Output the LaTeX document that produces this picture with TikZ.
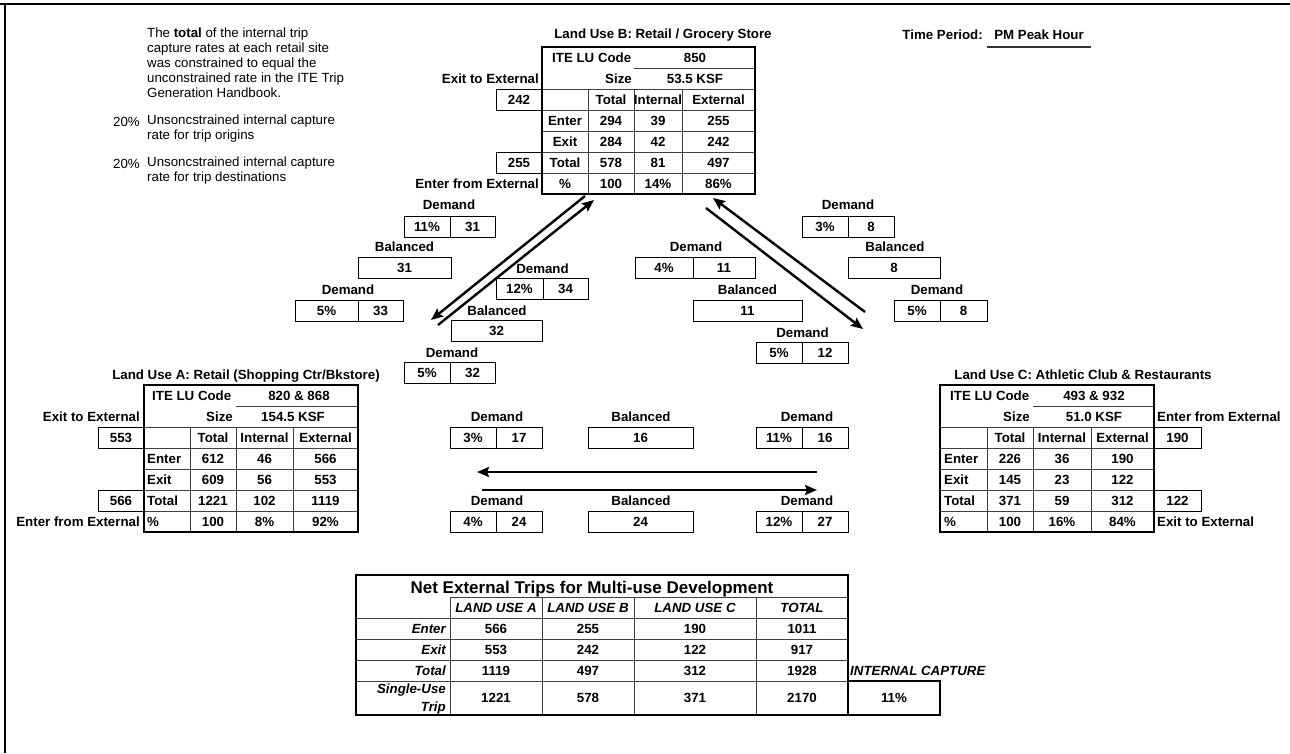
\documentclass[tikz,border=0pt]{standalone}
\usepackage{fontspec}
\setmainfont{Liberation Sans}
\usetikzlibrary{arrows.meta}
\newcommand{\bsz}{\fontsize{13.3}{15}\selectfont}
\newcommand{\twobox}[8]{%
  \node[cellbox, minimum width={#3-#2}, minimum height={#6-#5}] (#1a) at ({(#2+#3)/2},{(#5+#6)/2}) {#7};
  \node[cellbox, minimum width={#4-#3}, minimum height={#6-#5}] (#1b) at ({(#3+#4)/2},{(#5+#6)/2}) {#8};}
\newcommand{\onebox}[6]{%
  \node[cellbox, minimum width={#3-#2}, minimum height={#5-#4}] (#1) at ({(#2+#3)/2},{(#4+#5)/2}) {#6};}
\newcommand{\rowvals}[8]{%
  \node[lbl] (#1a) at (#3,#2) {#6};
  \node[lbl] (#1b) at (#4,#2) {#7};
  \node[lbl] (#1c) at (#5,#2) {#8};}
\begin{document}
\begin{tikzpicture}[x=1pt,y=-1pt,
  lbl/.style={font=\bfseries\bsz, inner sep=0pt, text height=9.5pt, text depth=0pt},
  ilbl/.style={font=\bfseries\itshape\bsz, inner sep=0pt, text height=9.5pt, text depth=0pt},
  note/.style={font=\fontsize{13.3}{15}\selectfont, inner sep=0pt, text height=9.5pt, text depth=0pt, anchor=west},
  cellbox/.style={draw, line width=0.9pt, inner sep=0pt, font=\bfseries\bsz, text height=9.5pt, text depth=0pt},
  grid/.style={line width=0.8pt, draw=black!75},
  frame/.style={line width=2pt},
  darr/.style={line width=2.4pt, -{Stealth[length=12pt,width=10pt,inset=2pt]}},
  harr/.style={line width=2.8pt, -{Stealth[length=12pt,width=10pt,inset=2pt]}},
]
\useasboundingbox (0,0) rectangle (1290,753);
% page border
\coordinate (tl0) at (0,4); \coordinate (tr0) at (1290,4);
\coordinate (lt0) at (5,4); \coordinate (lb0) at (5,753);
\draw[line width=2pt] (tl0) -- (tr0);
\draw[line width=1.6pt] (lt0) -- (lb0);

% description
\node[note] (d1) at (147,33) {The \textbf{total} of the internal trip};
\node[note] (d2) at (147,48) {capture rates at each retail site};
\node[note] (d3) at (147,63) {was constrained to equal the};
\node[note] (d4) at (147,78) {unconstrained rate in the ITE Trip};
\node[note] (d5) at (147,93) {Generation Handbook.};
\node[note] (p1) at (113,122) {20\%};
\node[note] (d6) at (147,120) {Unsoncstrained internal capture};
\node[note] (d7) at (147,135) {rate for trip origins};
\node[note] (p2) at (113,164) {20\%};
\node[note] (d8) at (147,162) {Unsoncstrained internal capture};
\node[note] (d9) at (147,177) {rate for trip destinations};

% time period
\node[lbl, anchor=east] (tpL) at (983,35) {Time Period:};
\node[lbl] (tpV) at (1039,35) {PM Peak Hour};
\coordinate (ulA) at (987,47); \coordinate (ulB) at (1091,47);
\draw[line width=1.5pt, black!80] (ulA) -- (ulB);

% ---------------- Land Use B
\node[lbl] (bTitle) at (663,34) {Land Use B: Retail / Grocery Store};
\draw[grid] (634,68) -- (755,68);
\foreach \y in {89,110,131,152,173} \draw[grid] (542,\y) -- (755,\y);
\foreach \x in {588,634,682} \draw[grid] (\x,89) -- (\x,194);
\onebox{bOutBox}{496}{542}{89}{110}{242}
\onebox{bInBox}{496}{542}{152}{173}{255}
\draw[frame] (542,47) rectangle (755,194);
\node[lbl, anchor=east] (bExitLbl) at (539,78.5) {Exit to External};
\node[lbl, anchor=east] (bEnterLbl) at (539,183.5) {Enter from External};
\node[lbl, anchor=west] (bCode) at (552,57.5) {ITE LU Code};
\node[lbl] (bCodeV) at (695,57.5) {850};
\node[lbl, anchor=east] (bSize) at (632,78.5) {Size};
\node[lbl] (bSizeV) at (695,78.5) {53.5 KSF};
\rowvals{bH}{99.5}{611}{658}{718.5}{Total}{Internal}{External}
\node[lbl] (bhE) at (565,120.5) {Enter};
\rowvals{bE}{120.5}{611}{658}{718.5}{294}{39}{255}
\node[lbl] (bhX) at (565,141.5) {Exit};
\rowvals{bX}{141.5}{611}{658}{718.5}{284}{42}{242}
\node[lbl] (bhT) at (565,162.5) {Total};
\rowvals{bT}{162.5}{611}{658}{718.5}{578}{81}{497}
\node[lbl] (bhP) at (565,183.5) {\%};
\rowvals{bP}{183.5}{611}{658}{718.5}{100}{14\%}{86\%}

% ---------------- Land Use A
\node[lbl] (aTitle) at (246,375) {Land Use A: Retail (Shopping Ctr/Bkstore)};
\draw[grid] (236,406) -- (358,406);
\foreach \y in {427,448,469,490,511} \draw[grid] (144,\y) -- (358,\y);
\foreach \x in {190,236,293} \draw[grid] (\x,427) -- (\x,532);
\onebox{aOutBox}{98}{144}{427}{448}{553}
\onebox{aInBox}{98}{144}{490}{511}{566}
\draw[frame] (144,385) rectangle (358,532);
\node[lbl, anchor=east] (aExitLbl) at (140,416.5) {Exit to External};
\node[lbl, anchor=east] (aEnterLbl) at (140,521.5) {Enter from External};
\node[lbl, anchor=west] (aCode) at (152,395.5) {ITE LU Code};
\node[lbl] (aCodeV) at (299,395.5) {820 \& 868};
\node[lbl, anchor=east] (aSize) at (233,416.5) {Size};
\node[lbl] (aSizeV) at (293,416.5) {154.5 KSF};
\rowvals{aH}{437.5}{213}{264.5}{325.5}{Total}{Internal}{External}
\node[lbl, anchor=west] (ahE) at (147,458.5) {Enter};
\rowvals{aE}{458.5}{213}{264.5}{325.5}{612}{46}{566}
\node[lbl, anchor=west] (ahX) at (147,479.5) {Exit};
\rowvals{aX}{479.5}{213}{264.5}{325.5}{609}{56}{553}
\node[lbl, anchor=west] (ahT) at (147,500.5) {Total};
\rowvals{aT}{500.5}{213}{264.5}{325.5}{1221}{102}{1119}
\node[lbl, anchor=west] (ahP) at (147,521.5) {\%};
\rowvals{aP}{521.5}{213}{264.5}{325.5}{100}{8\%}{92\%}

% ---------------- Land Use C
\node[lbl] (cTitle) at (1083,375) {Land Use C: Athletic Club \& Restaurants};
\draw[grid] (1033,406) -- (1154,406);
\foreach \y in {427,448,469,490,511} \draw[grid] (940,\y) -- (1154,\y);
\foreach \x in {987,1033,1091} \draw[grid] (\x,427) -- (\x,532);
\onebox{cInBox}{1154}{1201}{427}{448}{190}
\onebox{cOutBox}{1154}{1201}{490}{511}{122}
\draw[frame] (940,385) rectangle (1154,532);
\node[lbl, anchor=west] (cEnterLbl) at (1157,416.5) {Enter from External};
\node[lbl, anchor=west] (cExitLbl) at (1157,521.5) {Exit to External};
\node[lbl, anchor=west] (cCode) at (950,395.5) {ITE LU Code};
\node[lbl] (cCodeV) at (1094,395.5) {493 \& 932};
\node[lbl, anchor=east] (cSize) at (1030,416.5) {Size};
\node[lbl] (cSizeV) at (1094,416.5) {51.0 KSF};
\rowvals{cH}{437.5}{1010}{1062}{1122.5}{Total}{Internal}{External}
\node[lbl, anchor=west] (chE) at (944,458.5) {Enter};
\rowvals{cE}{458.5}{1010}{1062}{1122.5}{226}{36}{190}
\node[lbl, anchor=west] (chX) at (944,479.5) {Exit};
\rowvals{cX}{479.5}{1010}{1062}{1122.5}{145}{23}{122}
\node[lbl, anchor=west] (chT) at (944,500.5) {Total};
\rowvals{cT}{500.5}{1010}{1062}{1122.5}{371}{59}{312}
\node[lbl, anchor=west] (chP) at (944,521.5) {\%};
\rowvals{cP}{521.5}{1010}{1062}{1122.5}{100}{16\%}{84\%}

% ---------------- A <-> B
\node[lbl] (abL1) at (449,205) {Demand};
\twobox{ab1}{404}{450}{495}{216}{237}{11\%}{31}
\node[lbl] (abL2) at (404.5,247) {Balanced};
\onebox{ab2}{358}{451}{257}{278}{31}
\node[lbl] (abL3) at (348,290) {Demand};
\twobox{ab3}{295}{358}{403}{300}{321}{5\%}{33}
\node[lbl] (abL4) at (542.5,269) {Demand};
\twobox{ab4}{496}{543}{588}{278}{299}{12\%}{34}
\node[lbl] (abL5) at (497,311) {Balanced};
\onebox{ab5}{451}{542}{320.5}{341.5}{32}
\node[lbl] (abL6) at (452,353) {Demand};
\twobox{ab6}{404}{450}{495}{362.5}{383.5}{5\%}{32}
\coordinate (ab1s) at (585,196); \coordinate (ab1e) at (431,320);
\coordinate (ab2s) at (438,325); \coordinate (ab2e) at (594,200);
\draw[darr] (ab1s) -- (ab1e);
\draw[darr] (ab2s) -- (ab2e);

% ---------------- B <-> C
\node[lbl] (bcL1) at (848,205) {Demand};
\twobox{bc1}{802}{848}{894}{216}{237}{3\%}{8}
\node[lbl] (bcL2) at (895,247) {Balanced};
\onebox{bc2}{848}{940}{257}{278}{8}
\node[lbl] (bcL3) at (937,290) {Demand};
\twobox{bc3}{894}{940}{987}{300}{321}{5\%}{8}
\node[lbl] (bcL4) at (696,247) {Demand};
\twobox{bc4}{635}{693}{755}{257}{278}{4\%}{11}
\node[lbl] (bcL5) at (747.5,290) {Balanced};
\onebox{bc5}{693}{802}{300}{321}{11}
\node[lbl] (bcL6) at (802.5,333) {Demand};
\twobox{bc6}{756}{802}{848}{342}{363}{5\%}{12}
\coordinate (bc1s) at (865,312); \coordinate (bc1e) at (713,198);
\coordinate (bc2s) at (706,208); \coordinate (bc2e) at (863,329);
\draw[darr] (bc1s) -- (bc1e);
\draw[darr] (bc2s) -- (bc2e);

% ---------------- A <-> C
\node[lbl] (acL1) at (497,417) {Demand};
\twobox{ac1}{450}{496}{542}{427}{448}{3\%}{17}
\node[lbl] (acL2) at (641,417) {Balanced};
\onebox{ac2}{588}{693}{427}{448}{16}
\node[lbl] (acL3) at (807,417) {Demand};
\twobox{ac3}{756}{802}{848}{427}{448}{11\%}{16}
\coordinate (ac1s) at (817,472); \coordinate (ac1e) at (477,472);
\coordinate (ac2s) at (482,490); \coordinate (ac2e) at (817,490);
\draw[harr] (ac1s) -- (ac1e);
\draw[harr] (ac2s) -- (ac2e);
\node[lbl] (acL4) at (497,501) {Demand};
\twobox{ac4}{450}{496}{542}{511}{532}{4\%}{24}
\node[lbl] (acL5) at (641,501) {Balanced};
\onebox{ac5}{588}{693}{511}{532}{24}
\node[lbl] (acL6) at (807,501) {Demand};
\twobox{ac6}{756}{802}{848}{511}{532}{12\%}{27}

% ---------------- Net external trips
\draw[grid] (450,597) -- (848,597);
\foreach \y in {618,639,660,681} \draw[grid] (356,\y) -- (848,\y);
\foreach \x in {450,542,634,756} \draw[grid] (\x,597) -- (\x,715);
\draw[frame] (356,575) rectangle (848,715);
\node[lbl, font=\bfseries\fontsize{17}{20}\selectfont, text height=12.2pt] (nTitle) at (592,587) {Net External Trips for Multi-use Development};
\node[ilbl] (nHA) at (496,607.5) {LAND USE A};
\node[ilbl] (nHB) at (588,607.5) {LAND USE B};
\node[ilbl] (nHC) at (695,607.5) {LAND USE C};
\node[ilbl] (nHT) at (802,607.5) {TOTAL};
\node[ilbl, anchor=east] (nEn) at (446,628.5) {Enter};
\node[ilbl, anchor=east] (nEx) at (446,649.5) {Exit};
\node[ilbl, anchor=east] (nTo) at (446,670.5) {Total};
\node[ilbl, anchor=east] (nS1) at (446,689) {Single-Use};
\node[ilbl, anchor=east] (nS2) at (446,707) {Trip};
\node[lbl] (nEA) at (496,628.5) {566}; \node[lbl] (nEB) at (588,628.5) {255};
\node[lbl] (nEC) at (695,628.5) {190}; \node[lbl] (nET) at (802,628.5) {1011};
\node[lbl] (nXA) at (496,649.5) {553}; \node[lbl] (nXB) at (588,649.5) {242};
\node[lbl] (nXC) at (695,649.5) {122}; \node[lbl] (nXT) at (802,649.5) {917};
\node[lbl] (nTA) at (496,670.5) {1119}; \node[lbl] (nTB) at (588,670.5) {497};
\node[lbl] (nTC) at (695,670.5) {312}; \node[lbl] (nTT) at (802,670.5) {1928};
\node[lbl] (nSA) at (496,698) {1221}; \node[lbl] (nSB) at (588,698) {578};
\node[lbl] (nSC) at (695,698) {371}; \node[lbl] (nST) at (802,698) {2170};
\node[ilbl, anchor=west] (icL) at (850,670.5) {INTERNAL CAPTURE};
\node[cellbox, line width=1.8pt, minimum width=92, minimum height=34] (icBox) at (894,698) {11\%};
\end{tikzpicture}
\end{document}
